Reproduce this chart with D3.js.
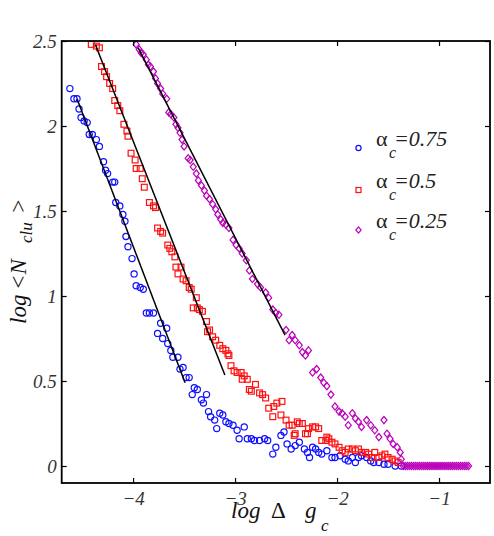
<!DOCTYPE html>
<html><head><meta charset="utf-8">
<script src="https://cdn.jsdelivr.net/npm/d3@7"></script>
<style>body{margin:0;background:#fff}svg{display:block}
svg text{font-family:"Liberation Serif","DejaVu Serif",serif;}
</style>
</head><body><svg id="c" width="494" height="536"></svg>
<script>
const xTicks=[-4,-3,-2,-1];
const xTickLabels=["\u22124","\u22123","\u22122","\u22121"];
const yTicks=[0,0.5,1,1.5,2,2.5];
const yTickLabels=["0","0.5","1","1.5","2","2.5"];
const legendValues=["0.75","0.5","0.25"];

const blue=[[-4.62,2.22],[-4.58,2.16],[-4.55,2.16],[-4.53,2.10],[-4.51,2.05],[-4.48,2.03],[-4.45,2.02],[-4.43,1.95],[-4.40,1.95],[-4.36,1.92],
[-4.33,1.88],[-4.29,1.79],[-4.27,1.74],[-4.25,1.72],[-4.20,1.67],[-4.18,1.67],[-4.17,1.55],[-4.13,1.53],[-4.10,1.48],[-4.08,1.44],
[-4.07,1.35],[-4.05,1.29],[-4.01,1.22],[-3.99,1.13],[-3.97,1.06],[-3.93,1.05],[-3.90,1.04],[-3.87,0.90],[-3.84,0.90],[-3.80,0.90],
[-3.76,0.78],[-3.73,0.84],[-3.71,0.75],[-3.67,0.81],[-3.66,0.72],[-3.63,0.68],[-3.61,0.64],[-3.56,0.64],[-3.54,0.57],[-3.51,0.58],
[-3.48,0.52],[-3.45,0.52],[-3.42,0.42],[-3.40,0.46],[-3.37,0.45],[-3.33,0.39],[-3.31,0.37],[-3.28,0.42],[-3.26,0.32],[-3.24,0.29],
[-3.20,0.27],[-3.18,0.22],[-3.15,0.31],[-3.12,0.30],[-3.09,0.26],[-3.06,0.25],[-3.02,0.24],[-2.98,0.21],[-2.96,0.16],[-2.91,0.23],
[-2.88,0.16],[-2.84,0.16],[-2.81,0.15],[-2.76,0.15],[-2.71,0.16],[-2.68,0.15],[-2.63,0.07],[-2.60,0.11],[-2.55,0.18],[-2.52,0.20],
[-2.49,0.13],[-2.45,0.10],[-2.41,0.12],[-2.37,0.14],[-2.32,0.10],[-2.29,0.08],[-2.27,0.05],[-2.24,0.11],[-2.21,0.10],[-2.18,0.08],
[-2.15,0.07],[-2.10,0.09],[-2.05,0.05],[-2.02,0.05],[-1.97,0.06],[-1.92,0.04],[-1.89,0.03],[-1.85,0.05],[-1.82,0.02],[-1.79,0.05],
[-1.76,0.06],[-1.71,0.05],[-1.67,0.03],[-1.64,0.02],[-1.59,0.02],[-1.54,0.01],[-1.50,0.01],[-1.43,0],[-1.37,0]];

const red=[[-4.41,2.48],[-4.36,2.47],[-4.33,2.46],[-4.31,2.35],[-4.28,2.32],[-4.26,2.29],[-4.23,2.25],[-4.20,2.22],[-4.18,2.15],[-4.15,2.12],
[-4.13,2.09],[-4.09,2.01],[-4.06,1.97],[-4.05,1.94],[-4.02,1.84],[-3.98,1.80],[-3.97,1.75],[-3.93,1.75],[-3.91,1.69],[-3.89,1.64],
[-3.84,1.55],[-3.80,1.53],[-3.78,1.52],[-3.76,1.40],[-3.73,1.38],[-3.71,1.37],[-3.66,1.30],[-3.64,1.28],[-3.62,1.26],[-3.59,1.23],
[-3.58,1.17],[-3.56,1.13],[-3.53,1.17],[-3.51,1.10],[-3.48,1.09],[-3.45,1.05],[-3.43,1.04],[-3.41,0.93],[-3.38,0.99],[-3.37,0.93],
[-3.35,0.92],[-3.32,0.91],[-3.28,0.85],[-3.27,0.79],[-3.25,0.80],[-3.22,0.76],[-3.19,0.74],[-3.15,0.71],[-3.12,0.69],[-3.09,0.68],
[-3.07,0.66],[-3.06,0.65],[-3.04,0.59],[-3.01,0.56],[-2.98,0.55],[-2.94,0.55],[-2.93,0.51],[-2.91,0.53],[-2.88,0.51],[-2.86,0.45],
[-2.84,0.44],[-2.80,0.48],[-2.76,0.43],[-2.73,0.42],[-2.70,0.40],[-2.67,0.34],[-2.63,0.29],[-2.62,0.35],[-2.59,0.37],[-2.55,0.30],
[-2.54,0.38],[-2.50,0.27],[-2.47,0.24],[-2.44,0.24],[-2.42,0.18],[-2.41,0.19],[-2.39,0.26],[-2.37,0.25],[-2.34,0.25],[-2.31,0.19],
[-2.29,0.19],[-2.28,0.22],[-2.24,0.23],[-2.21,0.23],[-2.18,0.22],[-2.15,0.15],[-2.11,0.15],[-2.10,0.17],[-2.08,0.16],[-2.05,0.14],
[-2.02,0.13],[-1.98,0.11],[-1.95,0.09],[-1.92,0.08],[-1.89,0.10],[-1.85,0.10],[-1.82,0.09],[-1.79,0.10],[-1.76,0.08],[-1.72,0.08],
[-1.69,0.07],[-1.66,0.05],[-1.63,0.08],[-1.59,0.05],[-1.56,0.06],[-1.53,0.07],[-1.50,0.05],[-1.46,0.04],[-1.43,0.03],[-1.40,0.02]];

const magenta=[[-3.97,2.48],[-3.94,2.45],[-3.92,2.43],[-3.90,2.42],[-3.87,2.39],[-3.85,2.36],[-3.83,2.35],[-3.80,2.32],[-3.78,2.28],[-3.76,2.25],
[-3.73,2.22],[-3.71,2.19],[-3.67,2.16],[-3.65,2.08],[-3.63,2.07],[-3.60,2.05],[-3.58,2.01],[-3.56,1.99],[-3.54,1.96],[-3.52,1.92],
[-3.50,1.88],[-3.46,1.81],[-3.44,1.80],[-3.41,1.76],[-3.38,1.72],[-3.36,1.68],[-3.33,1.65],[-3.30,1.62],[-3.28,1.59],[-3.25,1.57],
[-3.22,1.54],[-3.19,1.51],[-3.17,1.48],[-3.14,1.45],[-3.12,1.43],[-3.09,1.42],[-3.06,1.40],[-3.02,1.33],[-2.99,1.30],[-2.96,1.28],
[-2.93,1.25],[-2.89,1.21],[-2.86,1.15],[-2.83,1.10],[-2.78,1.07],[-2.75,1.05],[-2.70,1.02],[-2.67,0.99],[-2.63,0.92],[-2.60,0.90],
[-2.57,0.89],[-2.50,0.80],[-2.47,0.74],[-2.44,0.77],[-2.41,0.74],[-2.37,0.71],[-2.34,0.67],[-2.31,0.65],[-2.28,0.68],[-2.24,0.55],
[-2.20,0.57],[-2.16,0.52],[-2.13,0.49],[-2.10,0.47],[-2.06,0.42],[-2.02,0.35],[-1.98,0.32],[-1.95,0.31],[-1.92,0.29],[-1.89,0.24],
[-1.85,0.31],[-1.82,0.28],[-1.79,0.26],[-1.76,0.23],[-1.71,0.27],[-1.67,0.24],[-1.63,0.21],[-1.59,0.17],[-1.54,0.27],[-1.51,0.19],
[-1.48,0.16],[-1.45,0.13],[-1.41,0.11],[-1.38,0.08],[-1.37,0.04],
[-1.35,0],[-1.33,0],[-1.31,0],[-1.29,0],[-1.27,0],[-1.25,0],[-1.23,0],[-1.21,0],[-1.19,0],[-1.17,0],[-1.15,0],
[-1.13,0],[-1.11,0],[-1.09,0],[-1.07,0],[-1.05,0],[-1.03,0],[-1.01,0],[-0.99,0],[-0.97,0],[-0.95,0],[-0.93,0],
[-0.91,0],[-0.89,0],[-0.87,0],[-0.85,0],[-0.83,0],[-0.81,0],[-0.79,0],[-0.77,0],[-0.75,0],[-0.73,0],[-0.71,0]];

const fitBlue=[[-4.55,2.16],[-3.49,0.49]];
const fitRed=[[-4.37,2.48],[-3.10,0.535]];
const fitMagenta=[[-3.95,2.46],[-2.51,0.77]];

const colors={blue:"#1010ff",red:"#ff1010",magenta:"#bb00bb"};

const svg=d3.select("#c");
const x=d3.scaleLinear().domain([-4.7,-0.5]).range([61.7,490]);
const y=d3.scaleLinear().domain([-0.1,2.5]).range([483,41]);

const diamond=s=>`M0,${-s*1.2}L${s},0L0,${s*1.2}L${-s},0Z`;

function drawSeries(data,shape,color){
  const g=svg.append("g").attr("fill","none").attr("stroke",color).attr("stroke-width",1.2);
  if(shape==="circle"){
    g.selectAll("circle").data(data).join("circle")
      .attr("cx",d=>x(d[0])).attr("cy",d=>y(d[1])).attr("r",3.1);
  }else if(shape==="square"){
    g.selectAll("rect").data(data).join("rect")
      .attr("x",d=>x(d[0])-2.9).attr("y",d=>y(d[1])-2.9).attr("width",5.8).attr("height",5.8);
  }else{
    g.selectAll("path").data(data).join("path")
      .attr("transform",d=>`translate(${x(d[0])},${y(d[1])})`).attr("d",diamond(3));
  }
}
drawSeries(blue,"circle",colors.blue);
drawSeries(red,"square",colors.red);
drawSeries(magenta,"diamond",colors.magenta);

const line=d3.line().x(d=>x(d[0])).y(d=>y(d[1]));
[fitBlue,fitRed,fitMagenta].forEach(f=>{
  svg.append("path").attr("d",line(f)).attr("fill","none").attr("stroke","#000").attr("stroke-width",1.5);
});

function styleAxis(g){
  g.select(".domain").remove();
  g.attr("font-family",null).attr("font-size",null);
  g.selectAll(".tick line").attr("stroke","#000").attr("stroke-width",1.2);
  g.selectAll(".tick text").style("font-style","italic").style("font-size","19px").attr("fill","#333");
}
svg.append("g").attr("transform","translate(0,483)")
  .call(d3.axisBottom(x).tickValues(xTicks).tickFormat((d,i)=>xTickLabels[i]).tickSize(-5).tickPadding(9))
  .call(styleAxis);
svg.append("g").attr("transform","translate(0,41)")
  .call(d3.axisTop(x).tickValues(xTicks).tickFormat("").tickSize(-5))
  .call(styleAxis);
svg.append("g").attr("transform","translate(61.7,0)")
  .call(d3.axisLeft(y).tickValues(yTicks).tickFormat((d,i)=>yTickLabels[i]).tickSize(-5).tickPadding(5))
  .call(styleAxis);
svg.append("g").attr("transform","translate(490,0)")
  .call(d3.axisRight(y).tickValues(yTicks).tickFormat("").tickSize(-5))
  .call(styleAxis);
svg.append("rect").attr("x",x(-4.7)).attr("y",y(2.5)).attr("width",x(-0.5)-x(-4.7)).attr("height",y(-0.1)-y(2.5))
  .attr("fill","none").attr("stroke","#000").attr("stroke-width",1.8);

const xl=svg.append("text").style("font-size","23px").attr("fill","#111");
xl.append("tspan").attr("x",231).attr("y",518).style("font-style","italic").text("log");
xl.append("tspan").attr("x",271).attr("y",518).text("\u0394");
xl.append("tspan").attr("x",305).attr("y",518).style("font-style","italic").text("g");
xl.append("tspan").attr("x",321).attr("y",531).style("font-style","italic").style("font-size","17px").text("c");

const yl=svg.append("text").style("font-size","23px").attr("fill","#111")
  .attr("transform","rotate(-90)").style("font-style","italic");
yl.append("tspan").attr("x",-324).attr("y",26).text("log");
yl.append("tspan").attr("x",-290).attr("y",26).text("<N");
yl.append("tspan").attr("x",-243).attr("y",32).style("font-size","17px").text("clu");
yl.append("tspan").attr("x",-214).attr("y",26).text(">");

const shapes=["circle","square","diamond"];
const legCols=[colors.blue,colors.red,colors.magenta];
const legY=[148,190,230];
legendValues.forEach((v,i)=>{
  const cy=legY[i];
  const g=svg.append("g").attr("fill","none").attr("stroke",legCols[i]).attr("stroke-width",1.2);
  if(shapes[i]==="circle") g.append("circle").attr("cx",358.5).attr("cy",cy).attr("r",2.6);
  else if(shapes[i]==="square") g.append("rect").attr("x",356).attr("y",cy-2.5).attr("width",5).attr("height",5);
  else g.append("path").attr("transform",`translate(358.5,${cy})`).attr("d",diamond(2.6));
  const t=svg.append("text").style("font-size","22px").attr("fill","#222");
  t.append("tspan").attr("x",376).attr("y",cy-2).text("\u03b1");
  t.append("tspan").attr("x",389).attr("y",cy+10).style("font-style","italic").style("font-size","16px").text("c");
  t.append("tspan").attr("x",394).attr("y",cy-2).style("font-style","italic").text("="+v);
});
</script></body></html>
